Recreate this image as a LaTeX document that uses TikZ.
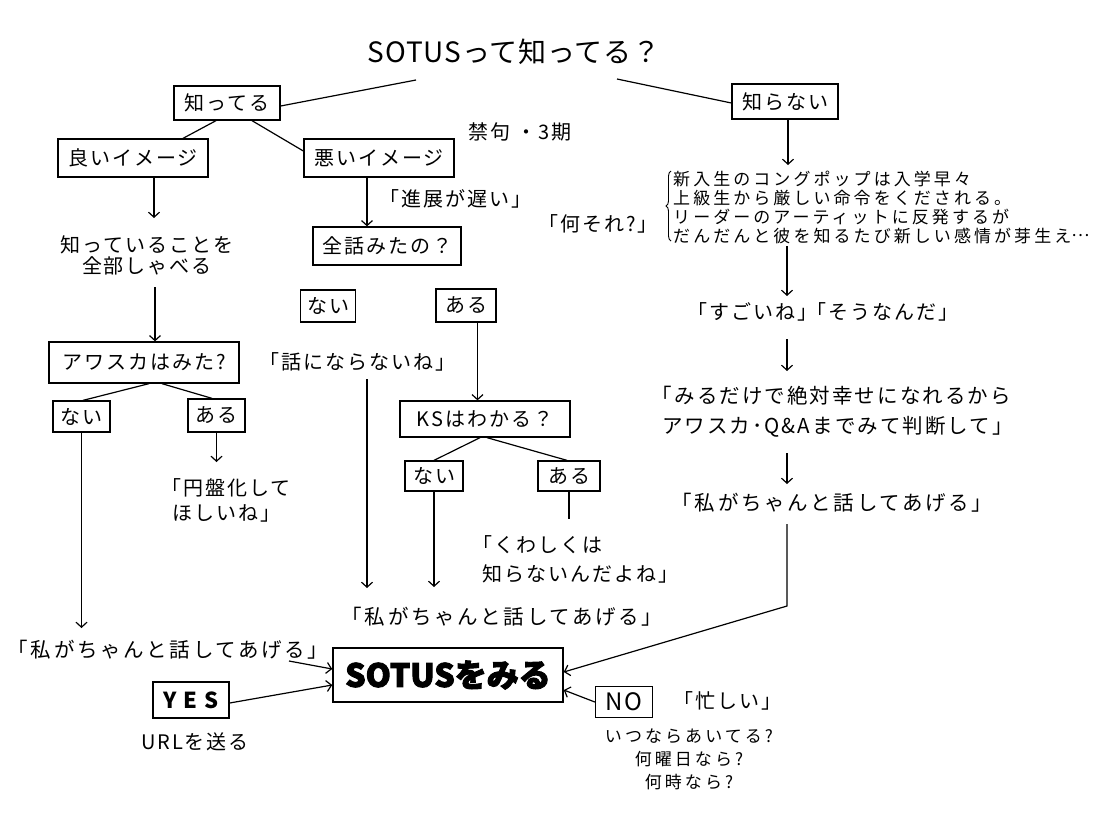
\documentclass[tikz,border=0pt]{standalone}
\usepackage{fontspec}
\usetikzlibrary{arrows.meta,decorations.pathreplacing,calc}
\newfontfamily\jpA{Noto Sans CJK JP}[LetterSpace=10]
\newfontfamily\jpW{Noto Sans CJK JP}[LetterSpace=13]
\newfontfamily\jpS{Noto Sans CJK JP}[LetterSpace=18]
\newfontfamily\jpT{Noto Sans CJK JP}[LetterSpace=3]
\newfontfamily\jpH{Noto Sans CJK JP}[BoldFeatures={FakeBold=3}]
\begin{document}
\begin{tikzpicture}[x=1pt,y=-1pt,
  ln/.style={line width=1.2pt},
  arr/.style={line width=1.2pt,-{Straight Barb[length=5pt,width=11pt]}},
  bx/.style={draw,line width=1.3pt,inner sep=0pt,font=\jpA\fontsize{20}{22}\selectfont},
  tx/.style={inner sep=0pt,align=center,font=\jpA\fontsize{20}{22}\selectfont},
  wide/.style={inner sep=0pt,align=center,font=\jpW\fontsize{20.5}{22}\selectfont},
  small/.style={inner sep=0pt,align=center,font=\jpS\fontsize{17}{23}\selectfont}
]
\fill[white] (0,0) rectangle (1102,812);
\useasboundingbox (0,0) rectangle (1102,812);

% title
\node[inner sep=0pt,font=\jpT\fontsize{28}{32}\selectfont] (title) at (514,52) {SOTUSって知ってる？};

% boxes
\node[bx,minimum width=106pt,minimum height=34pt] (shitteru) at (227,103) {知ってる};
\node[bx,minimum width=106pt,minimum height=35pt] (shiranai) at (785,101.5) {知らない};
\node[bx,minimum width=150pt,minimum height=38pt] (yoi) at (133,158) {良いイメージ};
\node[bx,minimum width=150pt,minimum height=38pt] (warui) at (379,158) {悪いイメージ};
\node[bx,minimum width=148pt,minimum height=38pt] (zenwa) at (387,246) {全話みたの？};
\node[bx,minimum width=55pt,minimum height=32pt] (nai1) at (328,306) {ない};
\node[bx,minimum width=60pt,minimum height=33pt] (aru1) at (466,305.5) {ある};
\node[bx,minimum width=190pt,minimum height=41pt] (awasuka) at (144,362.5) {アワスカはみた?};
\node[bx,minimum width=57pt,minimum height=31pt] (nai2) at (81.5,416.5) {ない};
\node[bx,minimum width=57pt,minimum height=33pt] (aru2) at (216.5,415.5) {ある};
\node[bx,minimum width=170pt,minimum height=36pt] (ks) at (485,419) {KSはわかる？};
\node[bx,minimum width=58pt,minimum height=30pt] (nai3) at (434,476) {ない};
\node[bx,minimum width=62pt,minimum height=30pt] (aru3) at (569,476) {ある};
\node[draw,line width=1.5pt,inner sep=0pt,minimum width=230pt,minimum height=54pt,
      font=\jpH\bfseries\fontsize{32}{36}\selectfont] (sotus) at (448,675) {SOTUSをみる};
\node[bx,minimum width=76pt,minimum height=36pt,font=\jpA\bfseries\fontsize{22}{24}\selectfont] (yes) at (191,700) {Y E S};
\node[bx,minimum width=57pt,minimum height=31pt,font=\jpA\fontsize{24}{26}\selectfont] (no) at (624,702) {NO};

% plain texts
\node[tx] (kinku) at (520,132) {禁句 ・3期};
\node[tx] (shinten) at (455,199) {「進展が遅い」};
\node[tx,font=\jpA\fontsize{20}{21}\selectfont] (shitteiru) at (147,255) {知っていることを\\全部しゃべる};
\node[tx] (hanashi) at (357,362) {「話にならないね」};
\node[tx,font=\jpA\fontsize{20}{25}\selectfont] (enban) at (226,500) {「円盤化して\\ほしいね」};
\node[tx,align=left,anchor=west,font=\jpA\fontsize{20}{29}\selectfont] (kuwa) at (482,559) {\kern-0.5em「くわしくは\\知らないんだよね」};
\node[wide] (wmid) at (502,617) {「私がちゃんと話してあげる」};
\node[wide] (wleft) at (168,650) {「私がちゃんと話してあげる」};
\node[wide] (wright) at (832,503) {「私がちゃんと話してあげる」};
\node[tx] (url) at (195,742) {URLを送る};
\node[tx] (isog) at (727,701) {「忙しい」};
\node[small] (when) at (689,759.5) {いつならあいてる?\\何曜日なら?\\何時なら?};
\node[tx] (nani) at (598,224) {「何それ?」};
\node[inner sep=0pt,anchor=west,align=left,font=\jpS\fontsize{17}{19}\selectfont] (story) at (673,207)
  {新入生のコングポップは入学早々\\上級生から厳しい命令をくだされる。\\リーダーのアーティットに反発するが\\だんだんと彼を知るたび新しい感情が芽生え\raisebox{0.3em}{…}};
\node[tx] (sugoi) at (823,312) {「すごいね」\kern-0.55em「そうなんだ」};
\node[tx,align=left,anchor=west,font=\jpA\fontsize{20.5}{30}\selectfont] (miru) at (662,412)
  {\kern-0.5em「みるだけで絶対幸せになれるから\\アワスカ･Q\&Aまでみて判断して」};

% brace
\draw[line width=0.9pt,decorate,decoration={brace,amplitude=5pt}] (671,241) -- (671,171);

% connectors
\coordinate (tL) at (416,80);
\coordinate (tR) at (617,79);
\draw[ln] (tL) -- ([yshift=-3pt]shitteru.east);
\draw[ln] (tR) -- ([yshift=-1.5pt]shiranai.west);
\draw[ln] ([xshift=-11pt]shitteru.south) -- ([xshift=50pt]yoi.north);
\draw[ln] ([xshift=25pt]shitteru.south) -- ([yshift=7pt]warui.west);

\coordinate (a1) at (154,218);
\draw[arr] (yoi.south -| a1) -- (a1);
\coordinate (c1) at (155,287);
\draw[arr] (c1) -- (awasuka.north -| c1);
\draw[ln] ([xshift=5pt]awasuka.south) -- ([xshift=1.5pt]nai2.north);
\draw[ln] ([xshift=18pt]awasuka.south) -- ([xshift=-4.5pt]aru2.north);
\coordinate (a2) at (216.5,462);
\draw[arr] (aru2.south) -- (a2);
\coordinate (a3) at (81.5,628);
\draw[arr] (nai2.south) -- (a3);

\draw[arr] ([xshift=-12pt]warui.south) -- ([xshift=-20pt]zenwa.north);
\coordinate (c3) at (367,379);
\coordinate (a4) at (367,588);
\draw[arr] (c3) -- (a4);
\draw[arr] ([xshift=11.5pt]aru1.south) -- ([xshift=-7.5pt]ks.north);
\draw[ln] ([xshift=-5pt]ks.south) -- (nai3.north);
\draw[ln] ([xshift=2pt]ks.south) -- ([xshift=-2pt]aru3.north);
\coordinate (a5) at (434,587);
\draw[arr] (nai3.south) -- (a5);
\coordinate (c4) at (569,519);
\draw[ln] (aru3.south) -- (c4);

\coordinate (a6) at (788,165);
\draw[arr] (shiranai.south -| a6) -- (a6);
\coordinate (c5) at (787,246);
\coordinate (a7) at (787,296);
\draw[arr] (c5) -- (a7);
\coordinate (c6) at (787,339);
\coordinate (a8) at (787,371);
\draw[arr] (c6) -- (a8);
\coordinate (c7) at (787,453);
\coordinate (a9) at (787,484);
\draw[arr] (c7) -- (a9);
\coordinate (c8) at (787,524);
\coordinate (k1) at (787,606);
\draw[arr] (c8) -- (k1) -- ([yshift=3pt]sotus.east);
\draw[arr] (no.west) -- ([yshift=-15pt]sotus.east);
\coordinate (c9) at (289,661);
\draw[arr] (c9) -- ([yshift=6pt]sotus.west);
\draw[arr] ([yshift=-3pt]yes.east) -- ([yshift=-10pt]sotus.west);
\end{tikzpicture}
\end{document}
